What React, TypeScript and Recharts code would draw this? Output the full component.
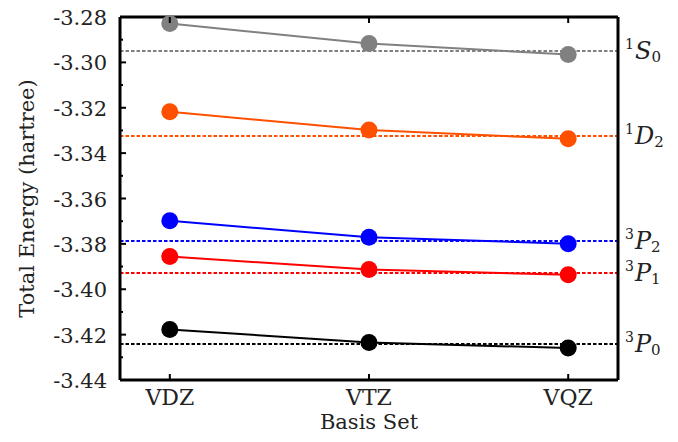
import React from "react";
import {
  LineChart,
  Line,
  XAxis,
  YAxis,
  ReferenceLine,
  Label,
} from "recharts";

// basis sets on the x axis
const basisSets = ["VDZ", "VTZ", "VQZ"];

// total energies per term (hartree), VDZ / VTZ / VQZ
const s0Values = [-3.2829, -3.2917, -3.2965];
const d2Values = [-3.3218, -3.3298, -3.3337];
const p2Values = [-3.3698, -3.3771, -3.3799];
const p1Values = [-3.3856, -3.3913, -3.3936];
const p0Values = [-3.4177, -3.4235, -3.4259];

// reference (limit) energies, dotted lines
const s0Ref = -3.295;
const d2Ref = -3.3325;
const p2Ref = -3.3787;
const p1Ref = -3.3928;
const p0Ref = -3.4241;

const majorTicks = [-3.44, -3.42, -3.4, -3.38, -3.36, -3.34, -3.32, -3.3, -3.28];
const minorTicks = [-3.43, -3.41, -3.39, -3.37, -3.35, -3.33, -3.31, -3.29];

const FONT = "DejaVu Serif";

const series = [
  { key: "s0", values: s0Values, ref: s0Ref, color: "#808080", mult: "1", letter: "S", j: "0" },
  { key: "d2", values: d2Values, ref: d2Ref, color: "#ff5000", mult: "1", letter: "D", j: "2" },
  { key: "p2", values: p2Values, ref: p2Ref, color: "#0000ff", mult: "3", letter: "P", j: "2" },
  { key: "p1", values: p1Values, ref: p1Ref, color: "#ff0000", mult: "3", letter: "P", j: "1" },
  { key: "p0", values: p0Values, ref: p0Ref, color: "#000000", mult: "3", letter: "P", j: "0" },
];

const data = basisSets.map((name, i) => {
  const row: Record<string, number | string> = { x: i, name };
  series.forEach((s) => {
    row[s.key] = s.values[i];
  });
  return row;
});

const yTicks = [...majorTicks, ...minorTicks].sort((a, b) => a - b);
const isMajor = (v: number) => majorTicks.some((m) => Math.abs(m - v) < 1e-6);

function LeftTick(props: any) {
  const { x, y, payload } = props;
  const axisX = x + 13;
  const len = isMajor(payload.value) ? 6 : 3;
  return (
    <g>
      <line x1={axisX} x2={axisX + len} y1={y} y2={y} stroke="#000" strokeWidth={2} />
      {isMajor(payload.value) && (
        <text x={x} y={y + 8} textAnchor="end" fontFamily={FONT} fontSize={21} fill="#222">
          {payload.value.toFixed(2)}
        </text>
      )}
    </g>
  );
}

function RightTick(props: any) {
  const { x, y, payload } = props;
  const len = isMajor(payload.value) ? 6 : 3;
  return <line x1={x} x2={x - len} y1={y} y2={y} stroke="#000" strokeWidth={2} />;
}

function BottomTick(props: any) {
  const { x, y, payload } = props;
  const axisY = y - 8;
  return (
    <g>
      <line x1={x} x2={x} y1={axisY} y2={axisY - 6} stroke="#000" strokeWidth={2} />
      <text x={x} y={y + 17} textAnchor="middle" fontFamily={FONT} fontSize={22} fill="#222">
        {basisSets[payload.value]}
      </text>
    </g>
  );
}

function TopTick(props: any) {
  const { x, y } = props;
  return <line x1={x} x2={x} y1={y} y2={y + 6} stroke="#000" strokeWidth={2} />;
}

const makeTermLabel = (mult: string, letter: string, j: string) => (props: any) => {
  const vb = props.viewBox;
  const x = vb.x + vb.width + 7;
  const y = vb.y + 8;
  return (
    <text x={x} y={y} fontFamily={FONT} fontSize={24} fill="#222">
      <tspan fontSize={14} dy={-10}>{mult}</tspan>
      <tspan fontStyle="italic" dx={1} dy={10}>{letter}</tspan>
      <tspan fontSize={15} dy={3}>{j}</tspan>
    </text>
  );
};

function YTitle(props: any) {
  const vb = props.viewBox;
  const cx = vb.x + 27;
  const cy = vb.y + vb.height / 2;
  return (
    <text
      x={cx}
      y={cy}
      transform={`rotate(-90 ${cx} ${cy})`}
      textAnchor="middle"
      dominantBaseline="central"
      fontFamily={FONT}
      fontSize={21}
      fill="#222"
    >
      Total Energy (hartree)
    </text>
  );
}

function XTitle(props: any) {
  const vb = props.viewBox;
  return (
    <text x={vb.x + vb.width / 2} y={vb.y + 49} textAnchor="middle" fontFamily={FONT} fontSize={21} fill="#222">
      Basis Set
    </text>
  );
}

export default function App() {
  return (
    <div style={{ position: "absolute", left: 0, top: 0, background: "#fff" }}>
      <LineChart width={678} height={442} data={data} margin={{ top: 7, right: 0, bottom: 0, left: 0 }}>
        <XAxis
          xAxisId="bottom"
          dataKey="x"
          type="number"
          domain={[-0.25, 2.25]}
          ticks={[0, 1, 2]}
          orientation="bottom"
          height={62}
          tickSize={0}
          tickMargin={8}
          tick={<BottomTick />}
          axisLine={{ stroke: "#000", strokeWidth: 3 }}
          tickLine={false}
        >
          <Label content={XTitle} />
        </XAxis>
        <XAxis
          xAxisId="top"
          dataKey="x"
          type="number"
          domain={[-0.25, 2.25]}
          ticks={[0, 1, 2]}
          orientation="top"
          height={10}
          tickSize={0}
          tickMargin={0}
          tick={<TopTick />}
          axisLine={{ stroke: "#000", strokeWidth: 3 }}
          tickLine={false}
        />
        <YAxis
          yAxisId="left"
          type="number"
          domain={[-3.44, -3.28]}
          ticks={yTicks}
          width={120}
          tickSize={0}
          tickMargin={13}
          tick={<LeftTick />}
          axisLine={{ stroke: "#000", strokeWidth: 3 }}
          tickLine={false}
          interval={0}
        >
          <Label content={YTitle} />
        </YAxis>
        <YAxis
          yAxisId="right"
          orientation="right"
          type="number"
          domain={[-3.44, -3.28]}
          ticks={yTicks}
          width={60}
          tickSize={0}
          tickMargin={0}
          tick={<RightTick />}
          axisLine={{ stroke: "#000", strokeWidth: 3 }}
          tickLine={false}
          interval={0}
        />
        {series.map((s) => (
          <ReferenceLine
            key={"ref-" + s.key}
            xAxisId="bottom"
            yAxisId="left"
            y={s.ref}
            stroke={s.color}
            strokeWidth={2}
            strokeDasharray="3.5 2"
            label={makeTermLabel(s.mult, s.letter, s.j)}
          />
        ))}
        {series.map((s) => (
          <Line
            key={s.key}
            xAxisId="bottom"
            yAxisId="left"
            dataKey={s.key}
            stroke={s.color}
            strokeWidth={2}
            dot={{ r: 8.5, fill: s.color, stroke: s.color, strokeWidth: 0 }}
            activeDot={false}
            isAnimationActive={false}
          />
        ))}
      </LineChart>
    </div>
  );
}
